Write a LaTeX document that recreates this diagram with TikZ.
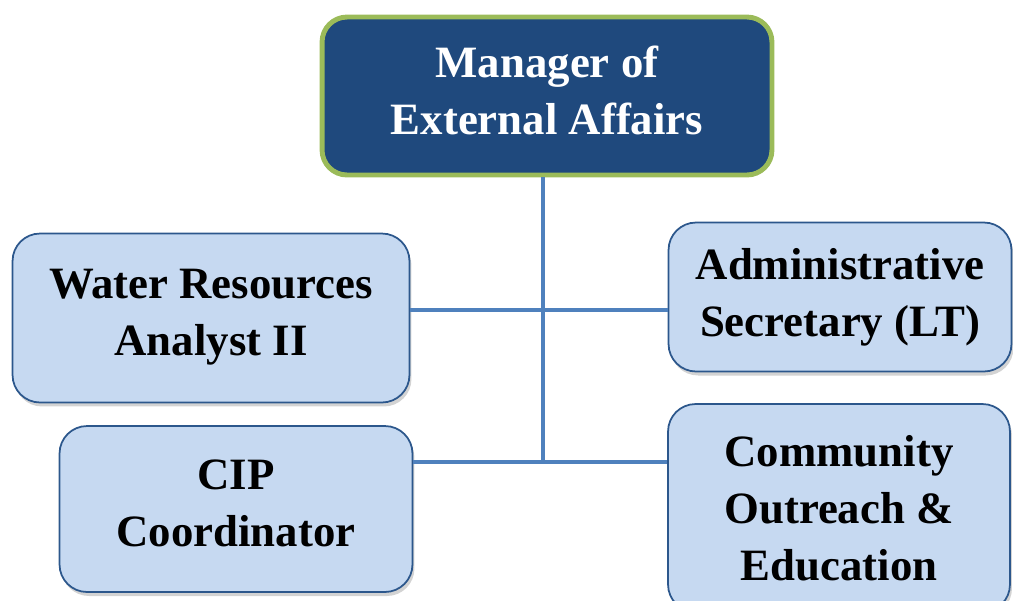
\documentclass[tikz,border=0pt]{standalone}
\usepackage{fontspec}
\setmainfont{Liberation Serif}
\usetikzlibrary{shadows}
\definecolor{headfill}{RGB}{31,73,125}
\definecolor{headline}{RGB}{155,187,89}
\definecolor{stafffill}{RGB}{198,217,241}
\definecolor{staffline}{RGB}{44,87,140}
\definecolor{linkblue}{RGB}{79,129,189}

\tikzset{
  headbox/.style={draw=headline, line width=2.8pt, fill=headfill, rounded corners=0.5cm,
    text=white, align=center, inner sep=0pt,
    font=\bfseries\fontsize{25.5}{32.5}\selectfont},
  staffbox/.style={draw=staffline, line width=1pt, fill=stafffill, rounded corners=0.55cm,
    align=center, inner sep=0pt,
    drop shadow={opacity=0.35, shadow xshift=0.04cm, shadow yshift=-0.08cm},
    font=\bfseries\fontsize{25.5}{32.5}\selectfont}
}

\begin{document}
\begin{tikzpicture}[x=0.02cm, y=-0.02cm,
    link/.style={draw=linkblue, line width=2.6pt}]
  \useasboundingbox (0,0) rectangle (1013,600);
  \clip (0,0) rectangle (1013,600);

  % manager on top
  \node[headbox, minimum width=9.0cm, minimum height=3.16cm] (mgr) at (547,96)
    {Manager of\\External Affairs\\[-26pt]};

  % staff boxes, two on each side
  \node[staffbox, minimum width=7.94cm, minimum height=3.38cm] (wra) at (211,318)
    {Water Resources\\Analyst II\\[-26pt]};
  \node[staffbox, minimum width=6.86cm, minimum height=2.98cm] (adm) at (840,297)
    {Administrative\\Secretary (LT)};
  \node[staffbox, minimum width=7.06cm, minimum height=3.32cm] (cip) at (236,509)
    {CIP\\Coordinator\\[-26pt]};
  \node[staffbox, minimum width=6.84cm, minimum height=4.16cm] (coe) at (839,508)
    {Community\\Outreach \&\\Education};

  % connectors
  \coordinate (j1) at (543,310);
  \coordinate (j2) at (543,462);
  \draw[link] (mgr.south -| j2) -- (j2);
  \draw[link] (wra.east |- j1) -- (adm.west |- j1);
  \draw[link] (cip.east |- j2) -- (coe.west |- j2);
\end{tikzpicture}
\end{document}
